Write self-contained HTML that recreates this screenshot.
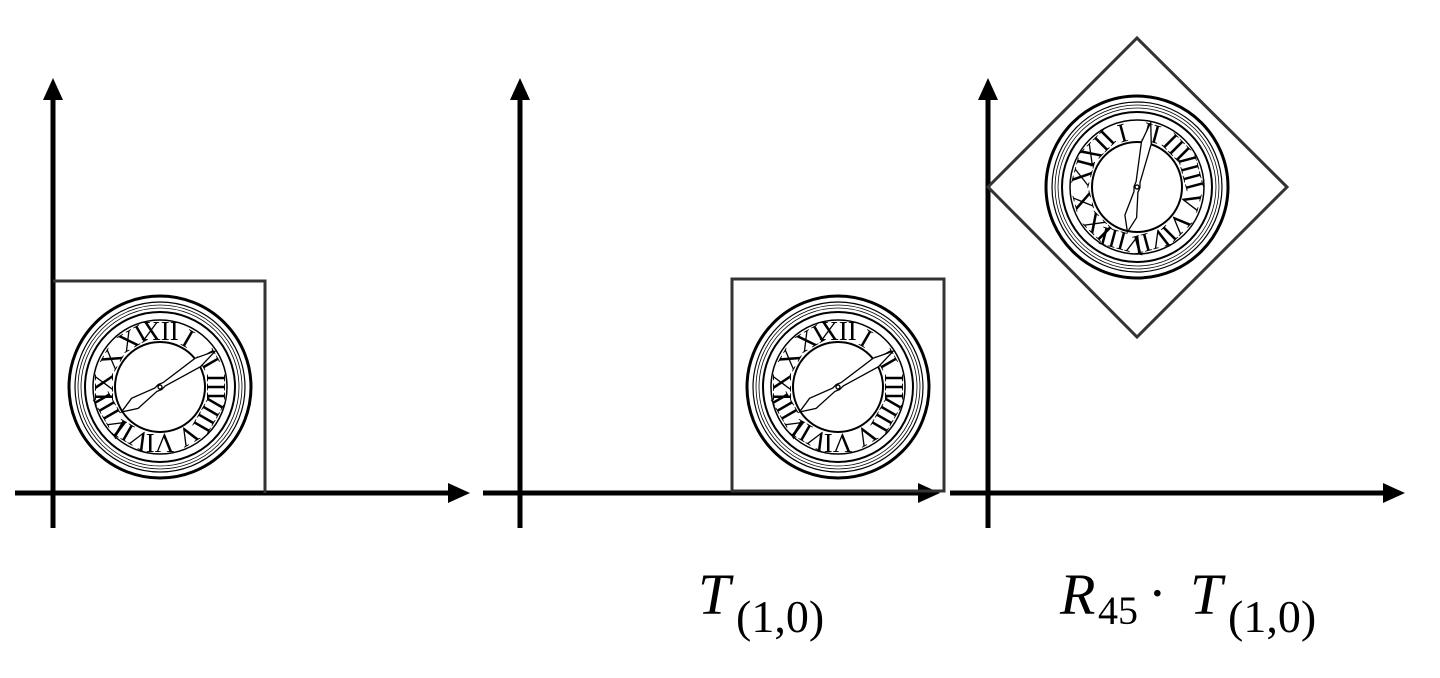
<!DOCTYPE html>
<html><head><style>html,body{margin:0;padding:0;background:#fff}svg{display:block}</style></head>
<body>
<svg width="1440" height="678" viewBox="0 0 1440 678" xmlns="http://www.w3.org/2000/svg">
<g stroke="#000" stroke-width="5" fill="none">
<line x1="53" y1="98" x2="53" y2="528"/><line x1="15" y1="493" x2="450" y2="493"/>
<line x1="520" y1="98" x2="520" y2="528"/><line x1="483" y1="493" x2="920" y2="493"/>
<line x1="988" y1="98" x2="988" y2="528"/><line x1="950" y1="493" x2="1385" y2="493"/>
</g>
<g fill="#000">
<polygon points="53,78 43,100 63,100"/><polygon points="470,493 448,483 448,503"/>
<polygon points="520,78 510,100 530,100"/><polygon points="940,493 918,483 918,503"/>
<polygon points="988,78 978,100 998,100"/><polygon points="1405,493 1383,483 1383,503"/>
</g>
<g stroke="#333" stroke-width="3" fill="none">
<polyline points="53,281 265,281 265,493"/>
<rect x="732" y="279" width="212" height="212"/>
<polygon points="988,187 1137,38 1287,187 1137,337"/>
</g>
<g transform="translate(160,387)">
<g fill="none" stroke="#000">
<circle r="91" stroke-width="3"/><circle r="85" stroke-width="1.2"/><circle r="82" stroke-width="0.8"/><circle r="79" stroke-width="0.8"/><circle r="75" stroke-width="2"/><circle r="67" stroke-width="1.5"/><circle r="45" stroke-width="2"/>
</g>
<g font-family="Liberation Serif, serif" font-size="27" text-anchor="middle" fill="#000">
<text transform="rotate(0) translate(0,-47)">XII</text><text transform="rotate(30) translate(0,-47)">I</text><text transform="rotate(60) translate(0,-47)">II</text><text transform="rotate(90) translate(0,-47)">III</text><text transform="rotate(120) translate(0,-47)">IIII</text><text transform="rotate(150) translate(0,-47)">V</text><text transform="rotate(180) translate(0,-47)">VI</text><text transform="rotate(210) translate(0,-47)">VII</text><text transform="rotate(240) translate(0,-47)">VIII</text><text transform="rotate(270) translate(0,-47)">IX</text><text transform="rotate(300) translate(0,-47)">X</text><text transform="rotate(330) translate(0,-47)">XI</text>
</g>
<g transform="rotate(-33)" fill="#fff" stroke="#000" stroke-width="1.3">
<polygon points="-46,0 -30,-6 -5,-2 0,-3 5,-2 45,-5 66,0 45,5 5,2 0,3 -5,2 -30,6"/>
<circle r="2" fill="#fff"/>
</g>
</g>
<g transform="translate(838,387)">
<g fill="none" stroke="#000">
<circle r="91" stroke-width="3"/><circle r="85" stroke-width="1.2"/><circle r="82" stroke-width="0.8"/><circle r="79" stroke-width="0.8"/><circle r="75" stroke-width="2"/><circle r="67" stroke-width="1.5"/><circle r="45" stroke-width="2"/>
</g>
<g font-family="Liberation Serif, serif" font-size="27" text-anchor="middle" fill="#000">
<text transform="rotate(0) translate(0,-47)">XII</text><text transform="rotate(30) translate(0,-47)">I</text><text transform="rotate(60) translate(0,-47)">II</text><text transform="rotate(90) translate(0,-47)">III</text><text transform="rotate(120) translate(0,-47)">IIII</text><text transform="rotate(150) translate(0,-47)">V</text><text transform="rotate(180) translate(0,-47)">VI</text><text transform="rotate(210) translate(0,-47)">VII</text><text transform="rotate(240) translate(0,-47)">VIII</text><text transform="rotate(270) translate(0,-47)">IX</text><text transform="rotate(300) translate(0,-47)">X</text><text transform="rotate(330) translate(0,-47)">XI</text>
</g>
<g transform="rotate(-33)" fill="#fff" stroke="#000" stroke-width="1.3">
<polygon points="-46,0 -30,-6 -5,-2 0,-3 5,-2 45,-5 66,0 45,5 5,2 0,3 -5,2 -30,6"/>
<circle r="2" fill="#fff"/>
</g>
</g>
<g transform="translate(1137,187) rotate(-45)">
<g fill="none" stroke="#000">
<circle r="91" stroke-width="3"/><circle r="85" stroke-width="1.2"/><circle r="82" stroke-width="0.8"/><circle r="79" stroke-width="0.8"/><circle r="75" stroke-width="2"/><circle r="67" stroke-width="1.5"/><circle r="45" stroke-width="2"/>
</g>
<g font-family="Liberation Serif, serif" font-size="27" text-anchor="middle" fill="#000">
<text transform="rotate(0) translate(0,-47)">XII</text><text transform="rotate(30) translate(0,-47)">I</text><text transform="rotate(60) translate(0,-47)">II</text><text transform="rotate(90) translate(0,-47)">III</text><text transform="rotate(120) translate(0,-47)">IIII</text><text transform="rotate(150) translate(0,-47)">V</text><text transform="rotate(180) translate(0,-47)">VI</text><text transform="rotate(210) translate(0,-47)">VII</text><text transform="rotate(240) translate(0,-47)">VIII</text><text transform="rotate(270) translate(0,-47)">IX</text><text transform="rotate(300) translate(0,-47)">X</text><text transform="rotate(330) translate(0,-47)">XI</text>
</g>
<g transform="rotate(-33)" fill="#fff" stroke="#000" stroke-width="1.3">
<polygon points="-46,0 -30,-6 -5,-2 0,-3 5,-2 45,-5 66,0 45,5 5,2 0,3 -5,2 -30,6"/>
<circle r="2" fill="#fff"/>
</g>
</g>
<g font-family="Liberation Serif, serif" fill="#000">
<text x="698" y="614" font-size="58" font-style="italic">T</text>
<text x="736" y="632" font-size="46">(1,0)</text>
<text x="1060" y="614" font-size="58" font-style="italic">R</text>
<text x="1098" y="624" font-size="40">45</text>
<text x="1148" y="612" font-size="56">·</text>
<text x="1190" y="614" font-size="58" font-style="italic">T</text>
<text x="1228" y="632" font-size="46">(1,0)</text>
</g>
</svg>
</body></html>
